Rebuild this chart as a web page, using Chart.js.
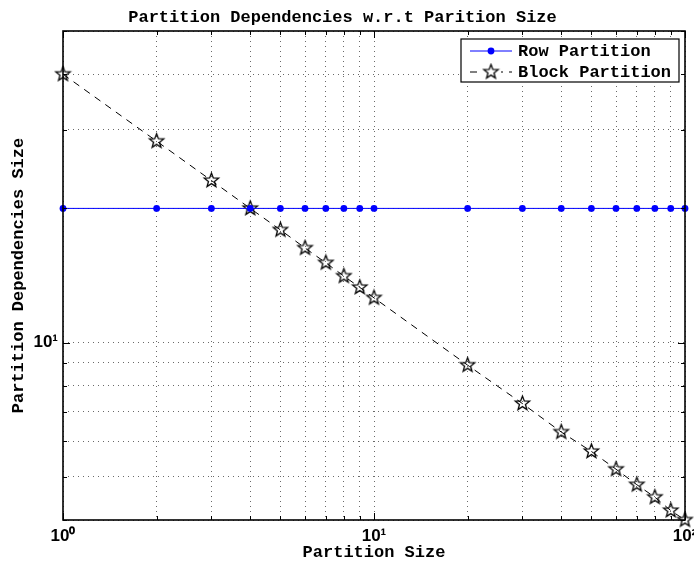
<!DOCTYPE html>
<html>
<head>
<meta charset="utf-8">
<script src="https://cdn.jsdelivr.net/npm/chart.js@4.4.1/dist/chart.umd.min.js"></script>
<style>
  body { margin: 0; background: #fff; }
  canvas { display: block; }
</style>
</head>
<body>
<canvas id="chart" width="694" height="563"></canvas>
<script>
const partitionSizes = [1, 2, 3, 4, 5, 6, 7, 8, 9, 10, 20, 30, 40, 50, 60, 70, 80, 90, 100];
const rowDeps = [20, 20, 20, 20, 20, 20, 20, 20, 20, 20, 20, 20, 20, 20, 20, 20, 20, 20, 20];
const blockDeps = [40, 28.3, 23.1, 20, 17.9, 16.3, 15.1, 14.1, 13.3, 12.6, 8.9, 7.3, 6.3, 5.7, 5.2, 4.8, 4.5, 4.2, 4.0];

const xTicks = [1, 2, 3, 4, 5, 6, 7, 8, 9, 10, 20, 30, 40, 50, 60, 70, 80, 90, 100];
const yTicks = [4, 5, 6, 7, 8, 9, 10, 20, 30, 40, 50];
const xTickLabels = { 1: "10\u2070", 10: "10\u00b9", 100: "10\u00b2" };
const yTickLabels = { 10: "10\u00b9" };

const mono = "'Liberation Mono', 'Courier New', monospace";
const sans = "'Liberation Sans', Arial, sans-serif";

// hollow five point star used as marker
function makeStar(r) {
  const size = Math.ceil(2 * r + 4);
  const c = document.createElement("canvas");
  c.width = size;
  c.height = size;
  const ctx = c.getContext("2d");
  const cx = size / 2, cy = size / 2;
  ctx.beginPath();
  for (let i = 0; i < 10; i++) {
    const rad = i % 2 === 0 ? r : r * 0.42;
    const a = -Math.PI / 2 + i * Math.PI / 5;
    const px = cx + rad * Math.cos(a), py = cy + rad * Math.sin(a);
    if (i === 0) ctx.moveTo(px, py); else ctx.lineTo(px, py);
  }
  ctx.closePath();
  ctx.strokeStyle = "#000";
  ctx.lineWidth = 1.3;
  ctx.stroke();
  return c;
}
const star = makeStar(7.5);

const pts = (ys) => partitionSizes.map((x, i) => ({ x: x, y: ys[i] }));

// box round the plot area, plus small inward ticks
const frame = {
  id: "frame",
  afterDraw(chart) {
    const { ctx, chartArea: a, scales } = chart;
    ctx.save();
    ctx.strokeStyle = "#000";
    ctx.lineWidth = 1;
    ctx.beginPath();
    scales.x.ticks.forEach((t) => {
      const px = Math.round(scales.x.getPixelForValue(t.value)) + 0.5;
      const len = xTickLabels[t.value] ? 7 : 4;
      ctx.moveTo(px, a.bottom); ctx.lineTo(px, a.bottom - len);
      ctx.moveTo(px, a.top); ctx.lineTo(px, a.top + len);
    });
    scales.y.ticks.forEach((t) => {
      const py = Math.round(scales.y.getPixelForValue(t.value)) + 0.5;
      const len = yTickLabels[t.value] ? 7 : 4;
      ctx.moveTo(a.left, py); ctx.lineTo(a.left + len, py);
      ctx.moveTo(a.right, py); ctx.lineTo(a.right - len, py);
    });
    ctx.stroke();
    ctx.lineWidth = 1.6;
    ctx.strokeRect(a.left, a.top, a.right - a.left, a.bottom - a.top);
    ctx.restore();
  },
};

// matlab style legend box in the upper right corner
const boxLegend = {
  id: "boxLegend",
  afterDraw(chart) {
    const { ctx, chartArea: a } = chart;
    const ds = chart.data.datasets;
    const x0 = a.right - 224, y0 = a.top + 8, w = 218, h = 43;
    ctx.save();
    ctx.fillStyle = "#fff";
    ctx.fillRect(x0, y0, w, h);
    ctx.strokeStyle = "#000";
    ctx.lineWidth = 1.2;
    ctx.strokeRect(x0, y0, w, h);
    ds.forEach((d, i) => {
      const y = y0 + 12 + i * 21;
      const lx1 = x0 + 9, lx2 = x0 + 51, mx = x0 + 30;
      ctx.strokeStyle = d.borderColor;
      ctx.lineWidth = d.borderWidth;
      ctx.setLineDash(d.borderDash || []);
      ctx.beginPath();
      ctx.moveTo(lx1, y); ctx.lineTo(lx2, y);
      ctx.stroke();
      ctx.setLineDash([]);
      if (d.pointStyle === "circle") {
        ctx.fillStyle = d.pointBackgroundColor;
        ctx.beginPath();
        ctx.arc(mx, y, d.pointRadius, 0, Math.PI * 2);
        ctx.fill();
      } else {
        ctx.fillStyle = "#fff";
        ctx.fillRect(mx - 10, y - 8, 20, 16);
        ctx.drawImage(d.pointStyle, mx - d.pointStyle.width / 2, y - d.pointStyle.height / 2);
      }
      ctx.fillStyle = "#000";
      ctx.font = "bold 17px " + mono;
      ctx.textBaseline = "middle";
      ctx.fillText(d.label, x0 + 57, y + 1);
    });
    ctx.restore();
  },
};

const grid = {
  color: "#6a6a6a",
  lineWidth: 1,
  drawTicks: false,
};
const noBorder = { display: false, dash: [1, 4] };

new Chart(document.getElementById("chart"), {
  type: "line",
  data: {
    datasets: [
      {
        label: "Row Partition",
        data: pts(rowDeps),
        borderColor: "#0000ff",
        borderWidth: 1,
        pointStyle: "circle",
        pointRadius: 3.4,
        pointBackgroundColor: "#0000ff",
        pointBorderColor: "#0000ff",
        pointBorderWidth: 0,
        clip: false,
      },
      {
        label: "Block Partition",
        data: pts(blockDeps),
        borderColor: "#000",
        borderWidth: 1,
        borderDash: [7, 6],
        pointStyle: star,
        pointRadius: 8,
        clip: false,
      },
    ],
  },
  options: {
    responsive: false,
    animation: false,
    layout: { padding: { left: 0, right: 9, top: 0, bottom: 0 } },
    plugins: {
      legend: { display: false },
      tooltip: { enabled: false },
      title: {
        display: true,
        text: "Partition Dependencies w.r.t Parition Size",
        color: "#000",
        font: { family: mono, size: 17, weight: "bold" },
        padding: { top: 8, bottom: 2.6 },
      },
    },
    scales: {
      x: {
        type: "logarithmic",
        min: 1,
        max: 100,
        grid: grid,
        border: noBorder,
        afterBuildTicks: (s) => { s.ticks = xTicks.map((v) => ({ value: v })); },
        afterFit: (s) => { s.height = 43; s.paddingLeft = 0; s.paddingRight = 0; },
        ticks: {
          autoSkip: false,
          maxRotation: 0,
          padding: 6,
          color: "#000",
          font: { family: sans, size: 17, weight: "bold" },
          callback: (v) => xTickLabels[v] || "",
        },
        title: {
          display: true,
          text: "Partition Size",
          color: "#000",
          font: { family: mono, size: 17, weight: "bold" },
          padding: { top: 0, bottom: 0 },
        },
      },
      y: {
        type: "logarithmic",
        min: 4,
        max: 50,
        grid: grid,
        border: noBorder,
        afterBuildTicks: (s) => { s.ticks = yTicks.map((v) => ({ value: v })); },
        afterFit: (s) => { s.width = 63; },
        ticks: {
          autoSkip: false,
          padding: 5,
          color: "#000",
          font: { family: sans, size: 17, weight: "bold" },
          callback: (v) => yTickLabels[v] || "",
        },
        title: {
          display: true,
          text: "Partition Dependencies Size",
          color: "#000",
          font: { family: mono, size: 17, weight: "bold" },
          padding: { top: 9, bottom: 0 },
        },
      },
    },
  },
  plugins: [frame, boxLegend],
});
</script>
</body>
</html>
